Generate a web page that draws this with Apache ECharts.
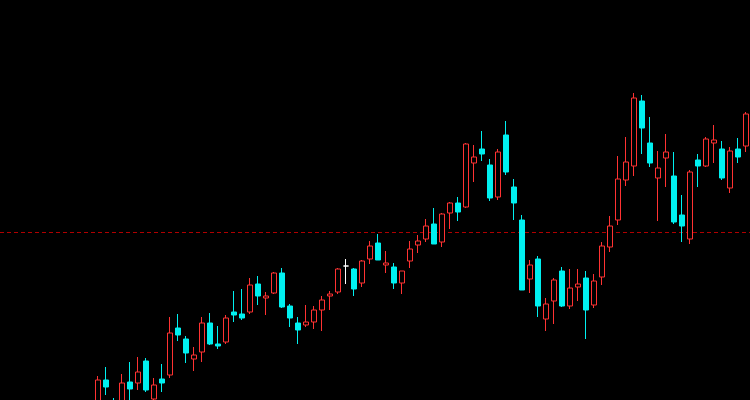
<!DOCTYPE html>
<html>
<head>
<meta charset="utf-8">
<script src="https://cdn.jsdelivr.net/npm/echarts@6/dist/echarts.min.js"></script>
<style>html,body{margin:0;padding:0;background:#000;}#c{width:750px;height:400px;}</style>
</head>
<body>
<div id="c"></div>
<script>
// [open, close, low, high]
const opens  = [622,634.5,623.5,622,633.5,633,644,625,635,637,660.5,655,645,648.5,663,652.5,653.5,668.5,667.5,668.5,682.5,675.5,678,688,671.5,663,662,663.5,669.5,676.5,678.5,691.5,690,683,695,703,692,691,683,694,702,705,712.5,703.5,718,723,721,743,750,742,726,757,731,714.5,685,695,665,674,689,671.5,681,685.5,672,686,701,714.5,734.5,741.5,774,753,735.5,745.5,736.5,717,705,744.5,741.5,753,750,730.5,750,751.5];
const closes = [634.5,631,619.5,633,630,638.5,629.5,632,633,658,657,648,647,663,652.5,651.5,665.5,667,665.5,682,676.5,676.5,688,671,665.5,659.5,663.5,669.5,674.5,677.5,690,691.5,680,694,701.5,694.5,693,683,689,700,704,711.5,702.5,717.5,723,718.5,752.5,746,747.5,725.5,748.5,738.5,723,679.5,692,671.5,672.5,684.5,671.5,680.5,682.5,669.5,684,701.5,711.5,735,743.5,775.5,760.5,743,740.5,748.5,713.5,711.5,738.5,741.5,755,754.5,735.5,749,746,767.5];
const lows   = [619.5,627,617,619.5,623.5,629.5,628.5,623.5,628.5,635.5,654,643,639,643.5,652,650,652.5,663.5,664.5,667.5,672,667,677.5,670.5,661,652.5,661,660,659,669.5,677.5,682.5,676.5,681,692.5,694.5,688,680,677.5,690.5,698,703.5,702.5,701,710,714,720.5,733.5,744,724,724.5,737,714.5,679.5,678,666,659,662.5,671,670,674,655.0,670.5,682,698.5,712,731.5,736.5,747.5,741,714,731,712.5,703.5,702.5,731,741,743,734.5,728,743,748.5];
const highs  = [636.5,641,625.5,637.5,643.5,646,645.5,635.5,642.5,666,667.5,656.5,651,666,668,661.5,667,679,680,685.5,686.5,678.5,688.5,690.5,672.5,666,672,671.5,676.5,679,690.5,695,690.5,694.5,704,707.5,699,693,689,704,707,715,720.5,718,723.5,726,753,752,759,745,750,764,735,717,694.5,696.5,675.5,685.5,691,690,690,689,687.5,703.5,716.5,746.5,756,778,777,766,749,757.5,748.5,727,739.5,747.5,756,762,754,751,755.5,768.5];
const dojiIndex = [31];
const refLine = 708.25;
const yMin = 624.5, yMax = 824.5;

const cats = opens.map((_, i) => i);
const data = opens.map((o, i) => {
  const item = { value: [o, closes[i], lows[i], highs[i]] };
  if (dojiIndex.indexOf(i) >= 0) item.itemStyle = { borderColor: '#ffffff', borderColor0: '#ffffff', borderColorDoji: '#ffffff', color: '#000', color0: '#000' };
  return item;
});
let minIdx = 0;
lows.forEach((v, i) => { if (v < lows[minIdx]) minIdx = i; });
const minLabel = lows[minIdx].toFixed(1);

const chart = echarts.init(document.getElementById('c'));
chart.setOption({
  backgroundColor: '#000',
  animation: false,
  grid: [
    { left: 94, right: 0, top: 0, bottom: 0 },
    { left: 0, right: 0, top: 0, bottom: 0 }
  ],
  xAxis: [
    { type: 'category', data: cats, show: false, boundaryGap: true, gridIndex: 0 },
    { type: 'value', min: 0, max: 1, show: false, gridIndex: 1 }
  ],
  yAxis: [
    { type: 'value', min: yMin, max: yMax, show: false, gridIndex: 0 },
    { type: 'value', min: yMin, max: yMax, show: false, gridIndex: 1 }
  ],
  series: [{
    type: 'line',
    xAxisIndex: 1, yAxisIndex: 1,
    data: [[0, refLine], [1, refLine]],
    symbol: 'none', silent: true, z: 1,
    lineStyle: { color: '#b00000', type: [4, 3], width: 1 }
  }, {
    type: 'candlestick',
    data: data,
    barWidth: 6,
    clip: true,
    z: 2,
    itemStyle: {
      color: '#000', color0: '#00f0f0',
      borderColor: '#ff3232', borderColor0: '#00f0f0', borderColorDoji: '#ff3232',
      borderWidth: 1
    }
  }]
});
const pt = chart.convertToPixel({ xAxisIndex: 0, yAxisIndex: 0 }, [minIdx, lows[minIdx]]);
chart.setOption({
  title: {
    text: minLabel,
    left: Math.round(pt[0]),
    top: Math.round(pt[1]) + 1,
    textAlign: 'center',
    padding: 0,
    textStyle: { color: '#00e0e0', fontSize: 13, fontWeight: 'normal', fontFamily: 'Liberation Sans' }
  }
});
</script>
</body>
</html>
